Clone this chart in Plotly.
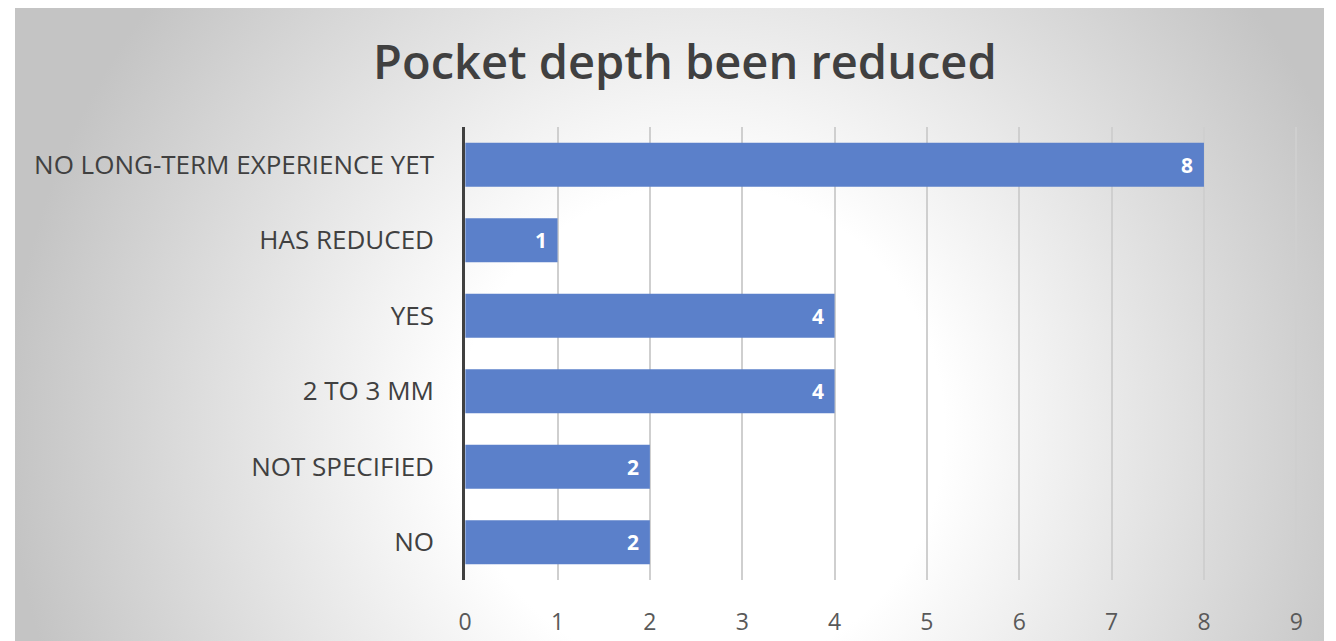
import plotly.graph_objects as go

categories = ["NO LONG-TERM EXPERIENCE YET", "HAS REDUCED", "YES", "2 TO 3 MM", "NOT SPECIFIED", "NO"]
values = [8, 1, 4, 4, 2, 2]
x_ticks = [0, 1, 2, 3, 4, 5, 6, 7, 8, 9]

W, H = 1336, 641
fig = go.Figure()

# background radial gradient (drawn on first subplot, pixel-like units)
cx, cy, r = 700, 430, 700
fig.add_trace(go.Scatter(
    x=[cx - r, cx + r, cx + r, cx - r, cx - r],
    y=[cy - r, cy - r, cy + r, cy + r, cy - r],
    mode="lines", line=dict(width=0), fill="toself",
    fillgradient=dict(type="radial", colorscale=[[0, "#ffffff"], [0.35, "#ffffff"], [1, "#c4c4c4"]]),
    hoverinfo="skip", showlegend=False, xaxis="x", yaxis="y",
))

fig.add_trace(go.Bar(
    x=values, y=categories, orientation="h",
    marker=dict(color="#5b80ca", line=dict(width=0)),
    xaxis="x2", yaxis="y2", showlegend=False, hoverinfo="skip",
))

for c, v in zip(categories, values):
    fig.add_annotation(x=v, y=c, xref="x2", yref="y2", text=str(v), showarrow=False,
                       xanchor="right", xshift=-9,
                       font=dict(family="Open Sans", size=21, color="white", weight="bold"))

px_per_unit = (1300 - 462) / 9
x_max = 9.03
fig.update_layout(
    width=W, height=H,
    margin=dict(l=0, r=0, t=0, b=0),
    paper_bgcolor="white", plot_bgcolor="rgba(0,0,0,0)",
    title=dict(text="Pocket depth been reduced", x=0.5116, xanchor="center", y=1 - 63 / H, yanchor="middle",
               xref="paper", yref="paper",
               font=dict(family="Open Sans", size=47, color="#404040", weight=600)),
    xaxis=dict(domain=[8 / W, 1328 / W], range=[8, 1328], visible=False, fixedrange=True),
    yaxis=dict(domain=[0, 1 - 8 / H], range=[641, 8], visible=False, fixedrange=True),
    xaxis2=dict(domain=[462 / W, (462 + x_max * px_per_unit) / W], range=[0, x_max], anchor="y2",
                tickvals=x_ticks, ticktext=[str(t) for t in x_ticks],
                showgrid=True, gridcolor="#cfcfcf", gridwidth=1.5, zeroline=False, showline=False,
                ticks="", ticklabelstandoff=26,
                tickfont=dict(family="Open Sans", size=23, color="#595959")),
    yaxis2=dict(domain=[(H - 580) / H, (H - 127) / H], anchor="x2",
                categoryorder="array", categoryarray=categories, autorange="reversed",
                showline=True, linecolor="#404040", linewidth=3, showgrid=False, ticks="",
                ticklabelstandoff=23,
                tickfont=dict(family="Open Sans", size=26, color="#404040")),
    bargap=0.42,
)

fig.write_html("out.html")
